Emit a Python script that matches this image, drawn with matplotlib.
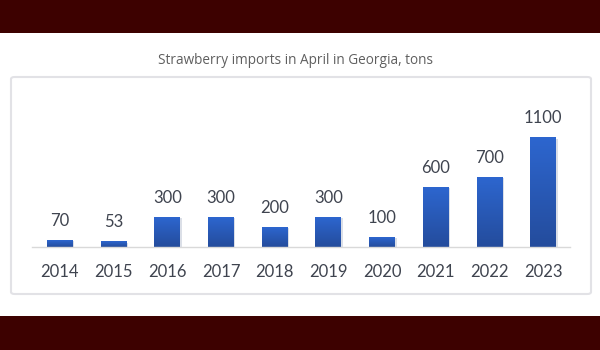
import numpy as np
import matplotlib
matplotlib.use("Agg")
from matplotlib import pyplot as plt
from matplotlib.patches import Rectangle, FancyBboxPatch
from matplotlib.colors import LinearSegmentedColormap

years = ["2014", "2015", "2016", "2017", "2018", "2019", "2020", "2021", "2022", "2023"]
imports_tons = [70, 53, 300, 300, 200, 300, 100, 600, 700, 1100]

W, H = 600, 350
fig = plt.figure(figsize=(6, 3.5), dpi=100)
fig.patch.set_facecolor("white")

# dark bands at top and bottom of the banner
maroon = "#3d0100"
fig.patches.append(Rectangle((0, 1 - 33 / H), 1, 33 / H, transform=fig.transFigure,
                             facecolor=maroon, edgecolor="none", zorder=-1))
fig.patches.append(Rectangle((0, 0), 1, 34 / H, transform=fig.transFigure,
                             facecolor=maroon, edgecolor="none", zorder=-1))

# panel frame around the chart
fig.patches.append(FancyBboxPatch((11 / W, (H - 294) / H), 580 / W, 217 / H,
                                  boxstyle="round,pad=0,rounding_size=0.006",
                                  transform=fig.transFigure, facecolor="white",
                                  edgecolor="#e2e2e6", linewidth=1.5, zorder=-1))

fig.text(0.493, 1 - 61 / H, "Strawberry imports in April in Georgia, tons",
         ha="center", va="center", fontsize=9.8, color="#5f5f5f", family="Open Sans")

ax = fig.add_axes([32 / W, (H - 247) / H, 538 / W, 139 / H])
ax.set_zorder(1)
ax.set_facecolor("none")
for s in ["top", "right", "left"]:
    ax.spines[s].set_visible(False)
ax.spines["bottom"].set_color("#d9d9d9")
ax.spines["bottom"].set_linewidth(1)
ax.set_yticks([])
ax.set_xticks(range(len(years)))
ax.set_xticklabels(years, fontsize=12, color="#3f444f", family="Lato")
ax.tick_params(axis="x", length=0, pad=12)

cmap = LinearSegmentedColormap.from_list("barblue", ["#244c9c", "#2d66cf"])
grad = np.linspace(0, 1, 256).reshape(-1, 1)
width = 0.48
for i, v in enumerate(imports_tons):
    # soft shadow under each bar
    ax.add_patch(Rectangle((i - width / 2 + 0.03, -8), width, v, facecolor="#9aa6bd",
                           edgecolor="none", alpha=0.35, zorder=1))
    ax.imshow(grad, cmap=cmap, aspect="auto", origin="lower",
              extent=(i - width / 2, i + width / 2, 0, v), zorder=2)
    ax.text(i, v + 115, str(v), ha="center", va="bottom", fontsize=12,
            color="#3f444f", family="Lato")

ax.set_xlim(-0.52, 9.5)
ax.set_ylim(0, 1400)

fig.savefig("out.png", dpi=100, facecolor=fig.get_facecolor())
